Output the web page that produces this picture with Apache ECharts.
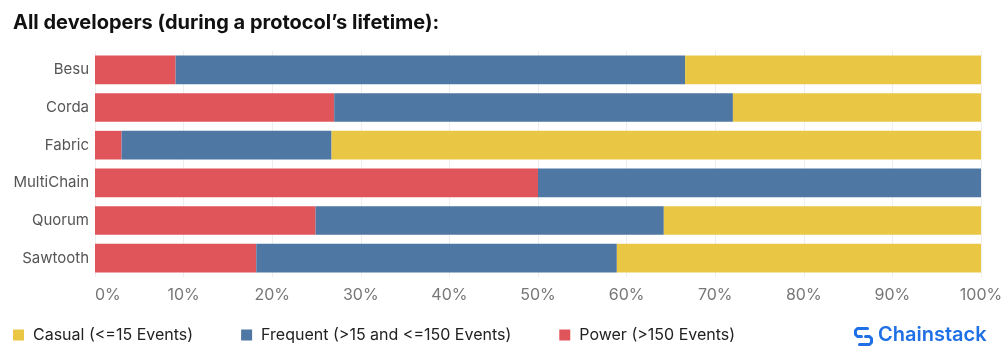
<!DOCTYPE html>
<html><head><meta charset="utf-8">
<script src="https://cdn.jsdelivr.net/npm/echarts@6/dist/echarts.min.js"></script>
<style>html,body{margin:0;padding:0;background:#fff}#c{width:1008px;height:356px}</style>
</head><body><div id="c"></div>
<script>
const categories = ['Besu','Corda','Fabric','MultiChain','Quorum','Sawtooth'];
const power    = [9.1, 27.0, 3.0, 50.0, 24.9, 18.2];
const frequent = [57.5, 45.0, 23.7, 50.0, 39.3, 40.7];
const casual   = [33.4, 28.0, 73.3, 0, 35.8, 41.1];
const xTicks = [0,10,20,30,40,50,60,70,80,90,100];

const chart = echarts.init(document.getElementById('c'), null, {renderer:'canvas'});
const FONT = 'Inter, "Liberation Sans", Arial, sans-serif';
chart.setOption({
  animation:false,
  title:{text:'All developers (during a protocol\u2019s lifetime):', left:13, top:13, padding:0,
    textStyle:{fontFamily:FONT, fontSize:20, fontWeight:'bold', color:'#111'}},
  grid:{left:95, right:27, top:51, height:226, containLabel:false},
  xAxis:{type:'value', min:xTicks[0], max:xTicks[xTicks.length-1], interval:10,
    axisLine:{show:false}, axisTick:{show:false},
    splitLine:{show:true, lineStyle:{color:'#eeeeee', width:1}},
    axisLabel:{formatter:'{value}%', color:'#777', fontFamily:FONT, fontSize:16, margin:10, alignMinLabel:'left'}},
  yAxis:{type:'category', data:categories, inverse:true,
    axisLine:{show:false}, axisTick:{show:false},
    axisLabel:{color:'#555', fontFamily:FONT, fontSize:15, margin:6}},
  legend:{left:13, top:327, padding:0, itemWidth:11, itemHeight:11, itemGap:48, icon:'rect',
    textStyle:{fontFamily:FONT, fontSize:16, color:'#222', padding:[0,0,0,4]},
    data:['Casual (<=15 Events)','Frequent (>15 and <=150 Events)','Power (>150 Events)']},
  series:[
    {name:'Power (>150 Events)', type:'bar', stack:'a', data:power, barCategoryGap:'24%', itemStyle:{color:'#e0555a'}},
    {name:'Frequent (>15 and <=150 Events)', type:'bar', stack:'a', data:frequent, itemStyle:{color:'#4e77a3'}},
    {name:'Casual (<=15 Events)', type:'bar', stack:'a', data:casual, itemStyle:{color:'#e9c744'}}
  ],
  graphic:[
    {type:'group', left:853, top:326, children:[
      {type:'polyline', shape:{points:[[14,2],[4,2],[2,4],[2,8],[4,10],[8,10]]}, style:{stroke:'#1f6fe5', lineWidth:3, fill:null, lineCap:'round', lineJoin:'round'}},
      {type:'polyline', shape:{points:[[6,18],[16,18],[18,16],[18,12],[16,10],[12,10]]}, style:{stroke:'#1f6fe5', lineWidth:3, fill:null, lineCap:'round', lineJoin:'round'}}
    ]},
    {type:'text', left:878, top:325, style:{text:'Chainstack', fill:'#1f6fe5', font:'600 20px ' + FONT}}
  ]
});
</script></body></html>
